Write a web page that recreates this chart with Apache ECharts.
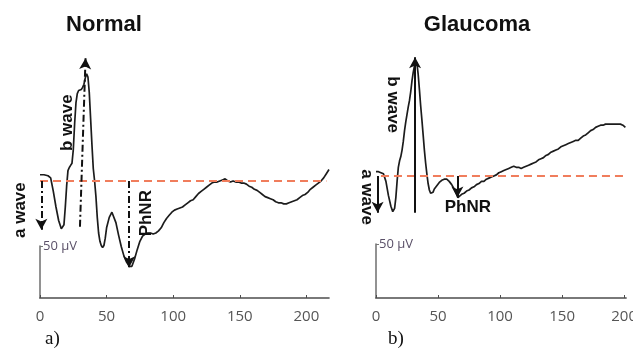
<!DOCTYPE html>
<html>
<head>
<meta charset="utf-8">
<script src="https://cdn.jsdelivr.net/npm/echarts@6/dist/echarts.min.js"></script>
<style>html,body{margin:0;padding:0;background:#fff}#c{width:640px;height:348px}</style>
</head>
<body>
<div id="c"></div>
<script>
// ---------- DATA ----------
const xTicks = [0, 50, 100, 150, 200];
const normalTitle = 'Normal';
const glaucomaTitle = 'Glaucoma';
const scaleLabel = '50 \u00b5V';

// Normal ERG (time ms, amplitude µV relative to baseline)
const normalX = [0,3,6,8,10,12,14,16,17,18,19,20,21,22,23,24,25,26,27,28,29,30,31,32,33,34,35,36,37,38,39,40,41,42,43,44,45,46,47,48,49,50,52,54,55,57,59,61,63,65,67,68,69,71,73,75,77,79,81,83,85,87,89,91,93,95,97,99,101,103,105,107,109,111,113,115,117,119,121,123,125,127,129,131,133,135,137,139,141,143,145,147,149,151,153,155,157,159,161,163,165,167,169,171,173,175,177,179,181,183,185,187,189,191,193,195,197,199,201,203,205,207,209,211,213,215,217];
const normalY = [6,6,5,3,-10,-25,-38,-46,-47,-42,-25,-5,10,13,15,17,30,55,75,84,87,88,88,90,93,99,103,100,85,60,35,12,0,-15,-35,-50,-58,-62,-64,-62,-55,-45,-35,-30,-31,-40,-52,-63,-72,-78,-82,-83,-82,-75,-66,-58,-53,-51,-50,-50,-51,-50,-48,-45,-40,-36,-33,-30,-28,-27,-26,-25,-23,-21,-19,-18,-15,-12,-10,-8,-6,-4,-2,-1,-1,0,1,2,0,-1,0,-1,-1,-2,-2,-3,-5,-6,-8,-9,-11,-13,-15,-16,-17,-18,-20,-21,-21,-22,-22,-21,-20,-19,-18,-16,-14,-13,-11,-8,-6,-4,-2,0,3,7,11];

// Glaucoma ERG
const glaucomaX = [0,2,4,6,8,10,12,13.5,15,16,17,18,19,20,21,22,23,24,25,26,27,28,29,30,31,32,33,34,35,36,37,38,39,40,41,42,43,44,45,46,47,49,51,53,55,57,59,61,63,65,66,67,69,71,73,75,77,79,81,83,85,87,89,91,93,95,97,99,101,103,105,107,109,111,113,115,117,119,121,123,125,127,129,131,133,135,137,139,141,143,145,147,149,151,153,155,157,159,161,163,165,167,169,171,173,175,177,179,181,183,185,187,189,191,193,195,197,199,201];
const glaucomaY = [4,4,3,2,-5,-18,-28,-33,-30,-20,-5,8,14,18,24,32,42,50,57,64,70,78,88,96,102,106,104,94,80,65,52,38,24,12,2,-7,-13,-16,-17,-15,-12,-9,-6,-4,-3,-3,-5,-8,-12,-17,-20,-19,-17,-16,-14,-13,-11,-10,-8,-7,-5,-5,-3,-2,-1,0,1,3,4,5,6,7,8,9,8,8,7,8,9,10,11,12,13,15,16,17,19,20,22,23,24,25,27,28,29,30,31,32,33,33,35,37,38,40,42,43,45,46,47,47,48,48,48,48,48,48,48,47,45];

// Annotation arrows (data units: ms, µV)
const normalAWave = [[1, 0], [1, -47]];
const normalBWave = [[30, -44], [34.2, 118]];
const normalPhNR = [[67, 0], [67, -83]];
const glaucomaAWave = [[1.3, 0], [1.3, -34]];
const glaucomaBWave = [[31.5, -34], [31.5, 110]];
const glaucomaPhNR = [[65.6, 0], [65.6, -20]];

// Baseline dashed line extents
const normalBase = [[0, 0], [215, 0]];
const glaucomaBase = [[4, 0], [201.6, 0]];

// Annotation labels (data anchor); rot: 1 = reads upward, -1 = reads downward, 0 = horizontal
const normalLabels = [
  {text: 'a wave', at: [-15, -28], rot: 1},
  {text: 'b wave', at: [20.3, 56], rot: 1},
  {text: 'PhNR', at: [79.5, -31], rot: 1}
];
const glaucomaLabels = [
  {text: 'a wave', at: [-7.3, -19.5], rot: -1},
  {text: 'b wave', at: [13.4, 66], rot: -1},
  {text: 'PhNR', at: [74, -28.7], rot: 0}
];

// ---------- CHART ----------
const zip = (xs, ys) => xs.map((x, i) => [x, ys[i]]);
const chart = echarts.init(document.getElementById('c'), null, {renderer: 'canvas'});

const curveColor = '#1c1c1c';
const dashColor = '#f07d5c';
const axisColor = '#4d4d4d';
const tickFont = {color: '#555', fontFamily: 'Open Sans', fontSize: 15};

function arrowLine(pts, dashed) {
  return [{coord: pts[0], symbol: 'none'}, {coord: pts[1], symbol: 'arrow',
    lineStyle: {color: '#111', width: 2, type: dashed ? [7, 3, 2, 3] : 'solid'}}];
}

function waveGrid(idx, xmax, ymin, ymax) {
  return {
    xAxis: {gridIndex: idx, type: 'value', min: 0, max: xmax, interval: 50,
      axisLine: {onZero: false, lineStyle: {color: axisColor, width: 1.6}},
      axisTick: {inside: true, length: 3, lineStyle: {color: axisColor}},
      splitLine: {show: false},
      axisLabel: Object.assign({showMaxLabel: false, margin: 11,
        formatter: v => xTicks.indexOf(v) >= 0 ? String(v) : ''}, tickFont)},
    yAxis: {gridIndex: idx, type: 'value', min: ymin, max: ymax, show: false}
  };
}
function scaleGrid(idx) {
  return {
    xAxis: {gridIndex: idx, type: 'value', min: 0, max: 1, show: false},
    yAxis: {gridIndex: idx, type: 'value', min: 0, max: 50, interval: 50,
      axisLine: {show: true, onZero: false, lineStyle: {color: '#777', width: 1.6}},
      axisTick: {show: true, inside: true, length: 3, lineStyle: {color: '#777'}},
      splitLine: {show: false},
      axisLabel: {inside: true, margin: 3, color: '#5a5068', fontFamily: 'Open Sans', fontSize: 13,
        formatter: v => v === 50 ? scaleLabel : ''}}
  };
}

const g0 = waveGrid(0, 217, -112.5, 164.4);
const g1 = scaleGrid(1);
const g2 = waveGrid(2, 201.6, -113, 153.7);
const g3 = scaleGrid(3);

function waveSeries(idx, data, arrows, base) {
  return {
    type: 'line', xAxisIndex: idx, yAxisIndex: idx, data: data,
    showSymbol: false, symbol: 'none', silent: true, animation: false,
    lineStyle: {color: curveColor, width: 1.7},
    z: 3,
    markLine: {
      silent: true, animation: false, symbolSize: [9, 11],
      label: {show: false},
      emphasis: {disabled: true},
      data: [
        [{coord: base[0], symbol: 'none', lineStyle: {color: dashColor, width: 2, type: [8, 5]}},
         {coord: base[1], symbol: 'none'}]
      ].concat(arrows)
    }
  };
}

const option = {
  backgroundColor: '#fff',
  animation: false,
  grid: [
    {left: 40, top: 10, width: 289, height: 288},
    {left: 40, top: 246, width: 20, height: 52},
    {left: 376, top: 10, width: 256, height: 288},
    {left: 376, top: 244, width: 20, height: 54}
  ],
  xAxis: [g0.xAxis, g1.xAxis, g2.xAxis, g3.xAxis],
  yAxis: [g0.yAxis, g1.yAxis, g2.yAxis, g3.yAxis],
  series: [
    waveSeries(0, zip(normalX, normalY),
      [arrowLine(normalAWave, true), arrowLine(normalBWave, true), arrowLine(normalPhNR, true)], normalBase),
    waveSeries(2, zip(glaucomaX, glaucomaY),
      [arrowLine(glaucomaAWave, false), arrowLine(glaucomaBWave, false), arrowLine(glaucomaPhNR, false)], glaucomaBase)
  ]
};
chart.setOption(option);

// Text annotations positioned from data coordinates
const graphics = [];
function addLabels(gridIndex, labels) {
  labels.forEach(l => {
    const p = chart.convertToPixel({gridIndex: gridIndex}, l.at);
    graphics.push({type: 'text', x: p[0], y: p[1], rotation: l.rot * Math.PI / 2, z: 10,
      style: {text: l.text, x: 0, y: 0, align: 'center', verticalAlign: 'middle',
        font: 'bold 17px "Liberation Sans", Arial, sans-serif', fill: '#111'}});
  });
}
addLabels(0, normalLabels);
addLabels(2, glaucomaLabels);
graphics.push({type: 'text', x: 104, y: 25, z: 10, style: {text: normalTitle, align: 'center', verticalAlign: 'middle',
  font: 'bold 22px "Liberation Sans", Arial, sans-serif', fill: '#111'}});
graphics.push({type: 'text', x: 477, y: 25, z: 10, style: {text: glaucomaTitle, align: 'center', verticalAlign: 'middle',
  font: 'bold 22px "Liberation Sans", Arial, sans-serif', fill: '#111'}});
graphics.push({type: 'text', x: 45, y: 339, z: 10, style: {text: 'a)', align: 'left', verticalAlign: 'middle',
  font: '19px "Liberation Serif", "Times New Roman", serif', fill: '#111'}});
graphics.push({type: 'text', x: 388, y: 339, z: 10, style: {text: 'b)', align: 'left', verticalAlign: 'middle',
  font: '19px "Liberation Serif", "Times New Roman", serif', fill: '#111'}});
graphics.push({type: 'rect', shape: {x: 633, y: 0, width: 7, height: 348}, z: 100,
  style: {fill: '#fff'}});
chart.setOption({graphic: graphics});
</script>
</body>
</html>
